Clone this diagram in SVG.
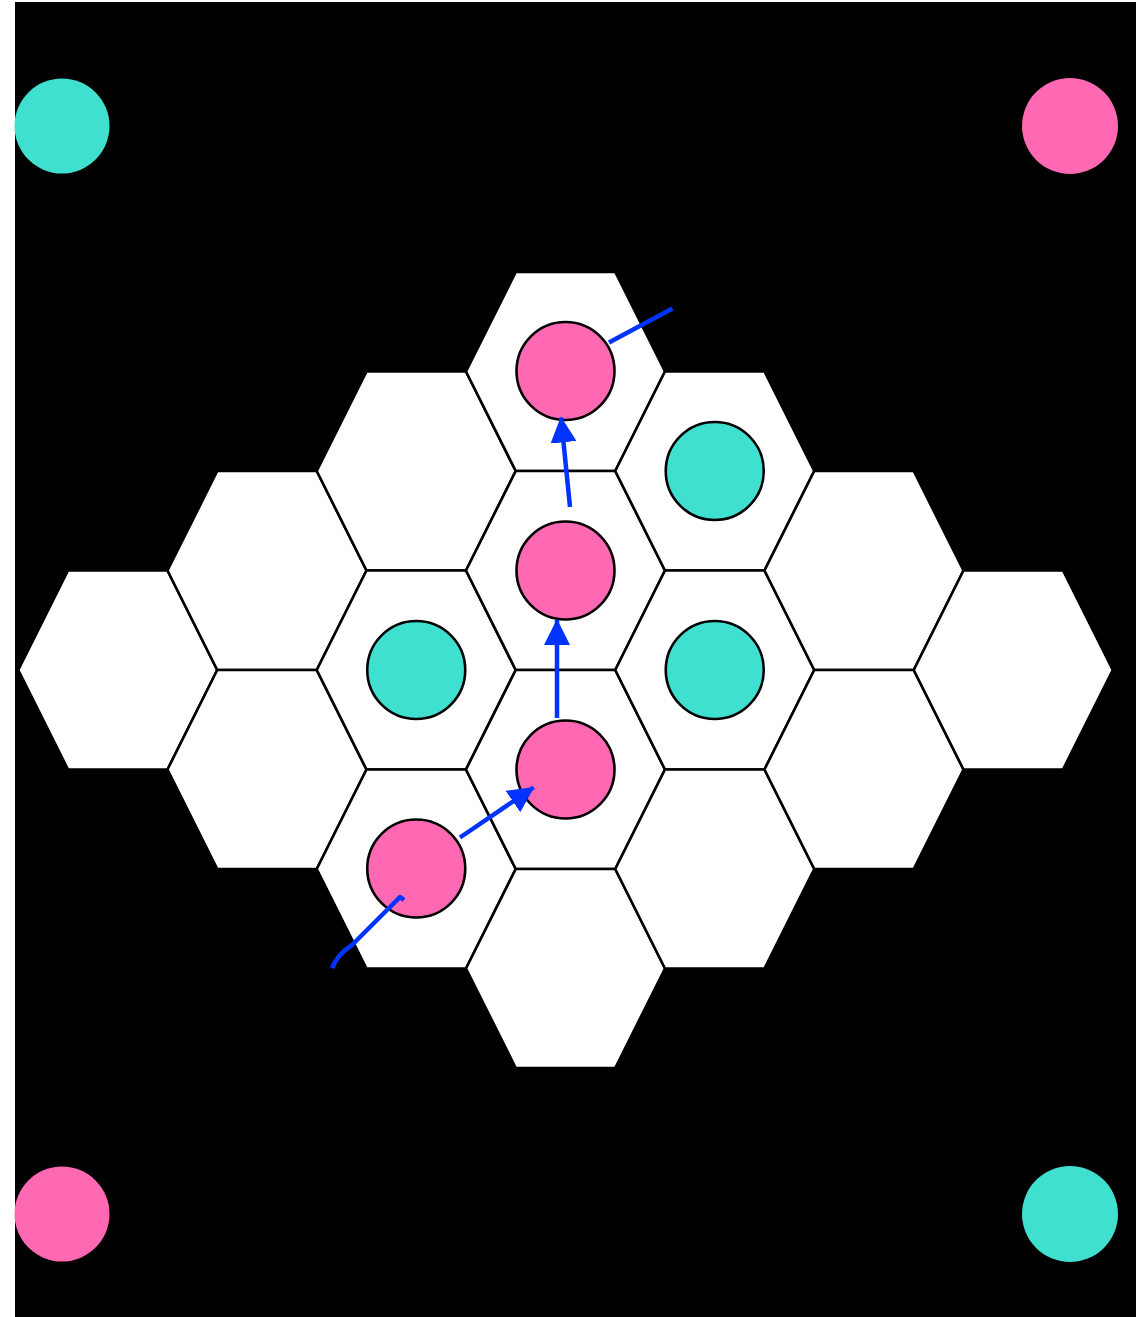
<svg xmlns="http://www.w3.org/2000/svg" width="1144" height="1317" viewBox="0 0 1144 1317">
<defs>
<style>
.hex{fill:#ffffff;stroke:#000000;stroke-width:2.6;stroke-linejoin:miter}
.pink{fill:#ff69b4;stroke:#000000;stroke-width:2.6}
.teal{fill:#40e0d0;stroke:#000000;stroke-width:2.6}
.cpink{fill:#ff69b4}
.cteal{fill:#40e0d0}
.conn{fill:none;stroke:#0033ff;stroke-width:4.5;stroke-linecap:butt;stroke-linejoin:round}
</style>
<marker id="arr" markerUnits="userSpaceOnUse" markerWidth="26" markerHeight="26" viewBox="0 0 24 24" refX="23" refY="12" orient="auto">
<path d="M0,0 L24,12 L0,24 Z" fill="#0033ff"/>
</marker>
<polygon id="h" points="-99.5,0 -49.75,-99.5 49.75,-99.5 99.5,0 49.75,99.5 -49.75,99.5"/>
</defs>
<rect x="0" y="0" width="1144" height="1317" fill="#ffffff"/>
<rect x="15" y="2" width="1121" height="1315" fill="#000000"/>
<g id="corners">
<circle id="corner-tl" class="cteal" cx="62" cy="126" r="47.5"/>
<circle id="corner-tr" class="cpink" cx="1070" cy="126" r="48"/>
<circle id="corner-bl" class="cpink" cx="62" cy="1214" r="47.5"/>
<circle id="corner-br" class="cteal" cx="1070" cy="1214" r="48"/>
</g>
<g id="board">
<use id="hex-0-3" href="#h" class="hex" x="117.75" y="670"/>
<use id="hex-1-2" href="#h" class="hex" x="267" y="570.5"/>
<use id="hex-1-4" href="#h" class="hex" x="267" y="769.5"/>
<use id="hex-2-1" href="#h" class="hex" x="416.25" y="471"/>
<use id="hex-2-3" href="#h" class="hex" x="416.25" y="670"/>
<use id="hex-2-5" href="#h" class="hex" x="416.25" y="869"/>
<use id="hex-3-0" href="#h" class="hex" x="565.5" y="371.5"/>
<use id="hex-3-2" href="#h" class="hex" x="565.5" y="570.5"/>
<use id="hex-3-4" href="#h" class="hex" x="565.5" y="769.5"/>
<use id="hex-3-6" href="#h" class="hex" x="565.5" y="968.5"/>
<use id="hex-4-1" href="#h" class="hex" x="714.75" y="471"/>
<use id="hex-4-3" href="#h" class="hex" x="714.75" y="670"/>
<use id="hex-4-5" href="#h" class="hex" x="714.75" y="869"/>
<use id="hex-5-2" href="#h" class="hex" x="864" y="570.5"/>
<use id="hex-5-4" href="#h" class="hex" x="864" y="769.5"/>
<use id="hex-6-3" href="#h" class="hex" x="1013.25" y="670"/>
</g>
<g id="stones">
<circle id="stone-p1" class="pink" cx="565.5" cy="371" r="49"/>
<circle id="stone-p2" class="pink" cx="565.5" cy="570.5" r="49"/>
<circle id="stone-p3" class="pink" cx="565.5" cy="769.5" r="49"/>
<circle id="stone-p4" class="pink" cx="416.25" cy="868.5" r="49"/>
<circle id="stone-t1" class="teal" cx="714.75" cy="471" r="49"/>
<circle id="stone-t2" class="teal" cx="416.25" cy="670" r="49"/>
<circle id="stone-t3" class="teal" cx="714.75" cy="670" r="49"/>
</g>
<g id="connectors">
<path class="conn" d="M332,968 Q338,954 352,945 L400,897 L404,900"/>
<line class="conn" x1="460" y1="837.5" x2="533.5" y2="787.5" marker-end="url(#arr)"/>
<line class="conn" x1="557" y1="718" x2="557" y2="620" marker-end="url(#arr)"/>
<line class="conn" x1="570" y1="507" x2="561" y2="417.5" marker-end="url(#arr)"/>
<line class="conn" x1="609" y1="342.5" x2="672.5" y2="308.5"/>
</g>
</svg>
